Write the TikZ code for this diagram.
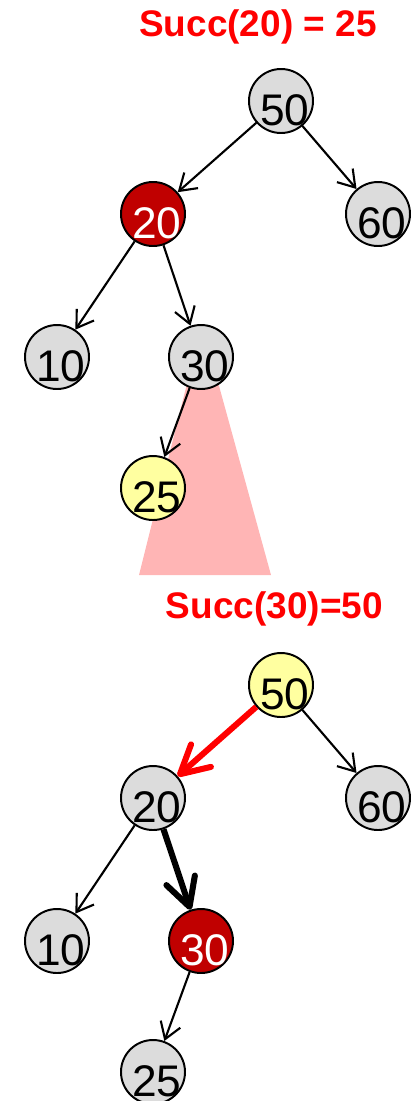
\documentclass[tikz,border=0pt]{standalone}
\usepackage{fontspec}
\setmainfont{Liberation Sans}
\usetikzlibrary{arrows.meta}
\definecolor{nodegrey}{HTML}{DCDCDC}
\definecolor{hitred}{HTML}{C00000}
\definecolor{succyel}{HTML}{FFFFA0}
\definecolor{subpink}{HTML}{FFB5B5}
\definecolor{titred}{HTML}{FF0000}
\newcommand{\nval}[1]{\raisebox{-0.6cm}[0pt][0pt]{\makebox[0pt]{\hspace{0.2cm}#1}}}

\begin{document}
\begin{tikzpicture}[font=\fontsize{31.5}{36}\selectfont,
    bst/.style={circle,draw,line width=1.4pt,minimum size=1.6cm,inner sep=0pt,fill=nodegrey},
    hit/.style={bst,fill=hitred,text=white},
    succ/.style={bst,fill=succyel},
    title/.style={titred,font=\fontsize{26.3}{30}\selectfont\bfseries},
    edge/.style={line width=1.5pt,-{Straight Barb[length=0.4cm,width=0.52cm]}},
    walk/.style={line width=4.3pt,-{Straight Barb[length=0.7cm,width=0.75cm,round]}}]
  \useasboundingbox (0,0) rectangle (10.35,-27.525);
  % right subtree of 30
  \fill[subpink] (5.05,-8.1) -- (6.775,-14.375) -- (3.475,-14.375) -- cycle;
  \node[title] (t1) at (6.45,-0.675) {Succ(20) = 25};
  \node[title] (t2) at (6.86,-15.225) {Succ(30)=50};
  \foreach \n/\v/\x/\y/\s in {a50/50/7.025/-2.525/bst,a20/20/3.825/-5.35/hit,a60/60/9.45/-5.35/bst,
      a10/10/1.425/-8.925/bst,a30/30/5.025/-8.925/bst,a25/25/3.825/-12.2/succ,
      b50/50/7.025/-17.125/succ,b20/20/3.825/-19.95/bst,b60/60/9.45/-19.95/bst,
      b10/10/1.425/-23.525/bst,b30/30/5.025/-23.525/hit,b25/25/3.825/-26.8/bst}
    \node[\s] (\n) at (\x,\y) {\nval{\v}};
  \foreach \u/\w in {a50/a20,a50/a60,a20/a10,a20/a30,a30/a25,b50/b60,b20/b10,b30/b25}
    \draw[edge] (\u) -- (\w);
  \draw[walk,titred] (b50) -- (b20);
  \draw[walk] (b20) -- (b30);
\end{tikzpicture}
\end{document}
